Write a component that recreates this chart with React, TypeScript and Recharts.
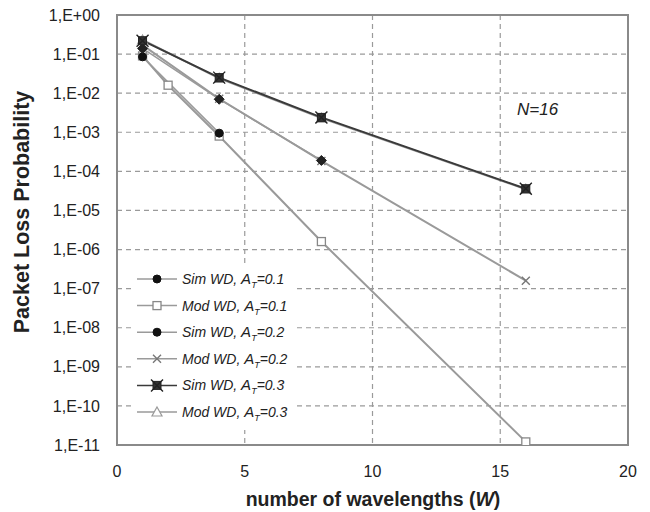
import React from 'react';
import { LineChart, Line, XAxis, YAxis, CartesianGrid, ReferenceArea } from 'recharts';

// ---- data ----
const xTicks = [0, 5, 10, 15, 20];
const yExponents = [0, -1, -2, -3, -4, -5, -6, -7, -8, -9, -10, -11];
const yTickLabels = ['1,E+00', '1,E-01', '1,E-02', '1,E-03', '1,E-04', '1,E-05', '1,E-06', '1,E-07', '1,E-08', '1,E-09', '1,E-10', '1,E-11'];
const yTicks = yExponents.map((e) => Math.pow(10, e));

const wSim01 = [1, 4];
const pSim01 = [0.085, 9.5e-4];
const wMod01 = [1, 2, 4, 8, 16];
const pMod01 = [0.09, 1.6e-2, 8e-4, 1.6e-6, 1.2e-11];
const wSim02 = [1, 4, 8];
const pSim02 = [0.14, 7e-3, 1.9e-4];
const wMod02 = [1, 4, 8, 16];
const pMod02 = [0.17, 7.2e-3, 1.85e-4, 1.6e-7];
const wSim03 = [1, 4, 8, 16];
const pSim03 = [0.22, 2.5e-2, 2.4e-3, 3.6e-5];
const wMod03 = [1, 4, 8, 16];
const pMod03 = [0.23, 2.4e-2, 2.3e-3, 3.5e-5];

const seriesNames = ['Sim WD, ', 'Mod WD, ', 'Sim WD, ', 'Mod WD, ', 'Sim WD, ', 'Mod WD, '];
const seriesA = ['=0.1', '=0.1', '=0.2', '=0.2', '=0.3', '=0.3'];

const zip = (w: number[], p: number[]) => w.map((x, i) => ({ w: x, p: p[i] }));

const sim01 = zip(wSim01, pSim01);
const mod01 = zip(wMod01, pMod01);
const sim02 = zip(wSim02, pSim02);
const mod02 = zip(wMod02, pMod02);
const sim03 = zip(wSim03, pSim03);
const mod03 = zip(wMod03, pMod03);

const FONT = '"Liberation Sans", Arial, sans-serif';
const GREY_LINE = '#9a9a9a';
const DARK_LINE = '#3a3a3a';

// ---- markers ----
type MP = { cx?: number; cy?: number; kind: string };
const Marker = ({ cx = 0, cy = 0, kind }: MP) => {
  switch (kind) {
    case 'circle':
      return <circle cx={cx} cy={cy} r={4} fill="#111" stroke="#111" />;
    case 'square':
      return <rect x={cx - 4} y={cy - 4} width={8} height={8} fill="#fff" stroke="#888" strokeWidth={1.3} />;
    case 'diamond':
      return <path d={`M${cx},${cy - 5}L${cx + 5},${cy}L${cx},${cy + 5}L${cx - 5},${cy}Z`} fill="#222" stroke="#222" />;
    case 'cross':
      return (
        <path d={`M${cx - 4},${cy - 4}L${cx + 4},${cy + 4}M${cx - 4},${cy + 4}L${cx + 4},${cy - 4}`} stroke="#777" strokeWidth={1.4} fill="none" />
      );
    case 'xsquare':
      return (
        <g>
          <rect x={cx - 4} y={cy - 4} width={8} height={8} fill="#333" stroke="#222" />
          <path d={`M${cx - 6},${cy - 6}L${cx + 6},${cy + 6}M${cx - 6},${cy + 6}L${cx + 6},${cy - 6}`} stroke="#222" strokeWidth={1.4} />
        </g>
      );
    case 'triangle':
      return <path d={`M${cx},${cy - 5}L${cx + 5},${cy + 4}L${cx - 5},${cy + 4}Z`} fill="#fff" stroke="#999" strokeWidth={1.2} />;
    default:
      return null;
  }
};

const markerKinds = ['circle', 'square', 'circle', 'cross', 'xsquare', 'triangle'];
const lineColors = [GREY_LINE, GREY_LINE, GREY_LINE, GREY_LINE, DARK_LINE, GREY_LINE];

const dotFn = (kind: string) => (props: any) => (
  <Marker key={`${kind}-${props.index}`} cx={props.cx} cy={props.cy} kind={kind} />
);

const LegendBox = () => (
  <svg width={165} height={165} style={{ display: 'block', background: '#fff' }}>
    {seriesNames.map((n, i) => {
      const y = 14 + i * 26.6;
      return (
        <g key={i}>
          <line x1={5} x2={45} y1={y} y2={y} stroke={lineColors[i]} strokeWidth={1.5} />
          <Marker cx={25} cy={y} kind={markerKinds[i]} />
          <text x={50} y={y + 5} fontFamily={FONT} fontStyle="italic" fontSize={14} fill="#222">
            {n}
            <tspan fontSize={15}>A</tspan>
            <tspan fontSize={9} dy={4}>T</tspan>
            <tspan dy={-4}>{seriesA[i]}</tspan>
          </text>
        </g>
      );
    })}
  </svg>
);

const yLabelFmt = (v: number) => {
  const e = Math.round(Math.log10(v));
  const idx = yExponents.indexOf(e);
  return idx >= 0 ? yTickLabels[idx] : '';
};

export default function App() {
  return (
    <div style={{ position: 'absolute', left: 0, top: 0, width: 650, height: 512, background: '#fff' }}>
      <LineChart width={650} height={512} margin={{ top: 15, right: 22, bottom: 0, left: 0 }}>
        <CartesianGrid stroke="#9a9a9a" strokeDasharray="5 4" strokeWidth={1.2} />
        <XAxis
          type="number"
          dataKey="w"
          domain={[0, 20]}
          ticks={xTicks}
          height={67}
          tickLine={false}
          tickSize={0}
          tickMargin={21}
          axisLine={false}
          tick={{ fontFamily: FONT, fontSize: 16, fill: '#222' }}
          label={() => (
            <text x={373} y={506} textAnchor="middle" fontFamily={FONT} fontSize={19.5} fontWeight="bold" fill="#222">
              number of wavelengths (<tspan fontStyle="italic">W</tspan>)
            </text>
          )}
        />
        <YAxis
          type="number"
          scale="log"
          domain={[1e-11, 1]}
          ticks={yTicks}
          allowDataOverflow
          width={117}
          tickLine={false}
          tickSize={0}
          tickMargin={17}
          axisLine={false}
          tickFormatter={yLabelFmt}
          tick={{ fontFamily: FONT, fontSize: 16, fill: '#222' }}
          label={() => (
            <text x={0} y={0} transform="translate(29, 212) rotate(-90)" textAnchor="middle" fontFamily={FONT} fontSize={21.5} fontWeight="bold" fill="#222">
              Packet Loss Probability
            </text>
          )}
        />
        <ReferenceArea x1={0} x2={20} y1={1e-11} y2={1} fill="none" stroke="#8a8a8a" strokeWidth={2} ifOverflow="visible" />
        <Line data={mod01} dataKey="p" stroke={GREY_LINE} strokeWidth={2} dot={dotFn('square')} isAnimationActive={false} legendType="none" />
        <Line data={mod02} dataKey="p" stroke={GREY_LINE} strokeWidth={2} dot={dotFn('cross')} isAnimationActive={false} legendType="none" />
        <Line data={mod03} dataKey="p" stroke={GREY_LINE} strokeWidth={2} dot={dotFn('triangle')} isAnimationActive={false} legendType="none" />
        <Line data={sim01} dataKey="p" stroke={GREY_LINE} strokeWidth={1.5} dot={dotFn('circle')} isAnimationActive={false} legendType="none" />
        <Line data={sim02} dataKey="p" stroke={GREY_LINE} strokeWidth={1.5} dot={dotFn('diamond')} isAnimationActive={false} legendType="none" />
        <Line data={sim03} dataKey="p" stroke={DARK_LINE} strokeWidth={2} dot={dotFn('xsquare')} isAnimationActive={false} legendType="none" />
      </LineChart>
      <div style={{ position: 'absolute', left: 132, top: 265 }}>
        <LegendBox />
      </div>
      <div
        style={{
          position: 'absolute',
          left: 517,
          top: 100,
          fontFamily: FONT,
          fontStyle: 'italic',
          fontSize: 17,
          color: '#222',
        }}
      >
        N=16
      </div>
    </div>
  );
}
